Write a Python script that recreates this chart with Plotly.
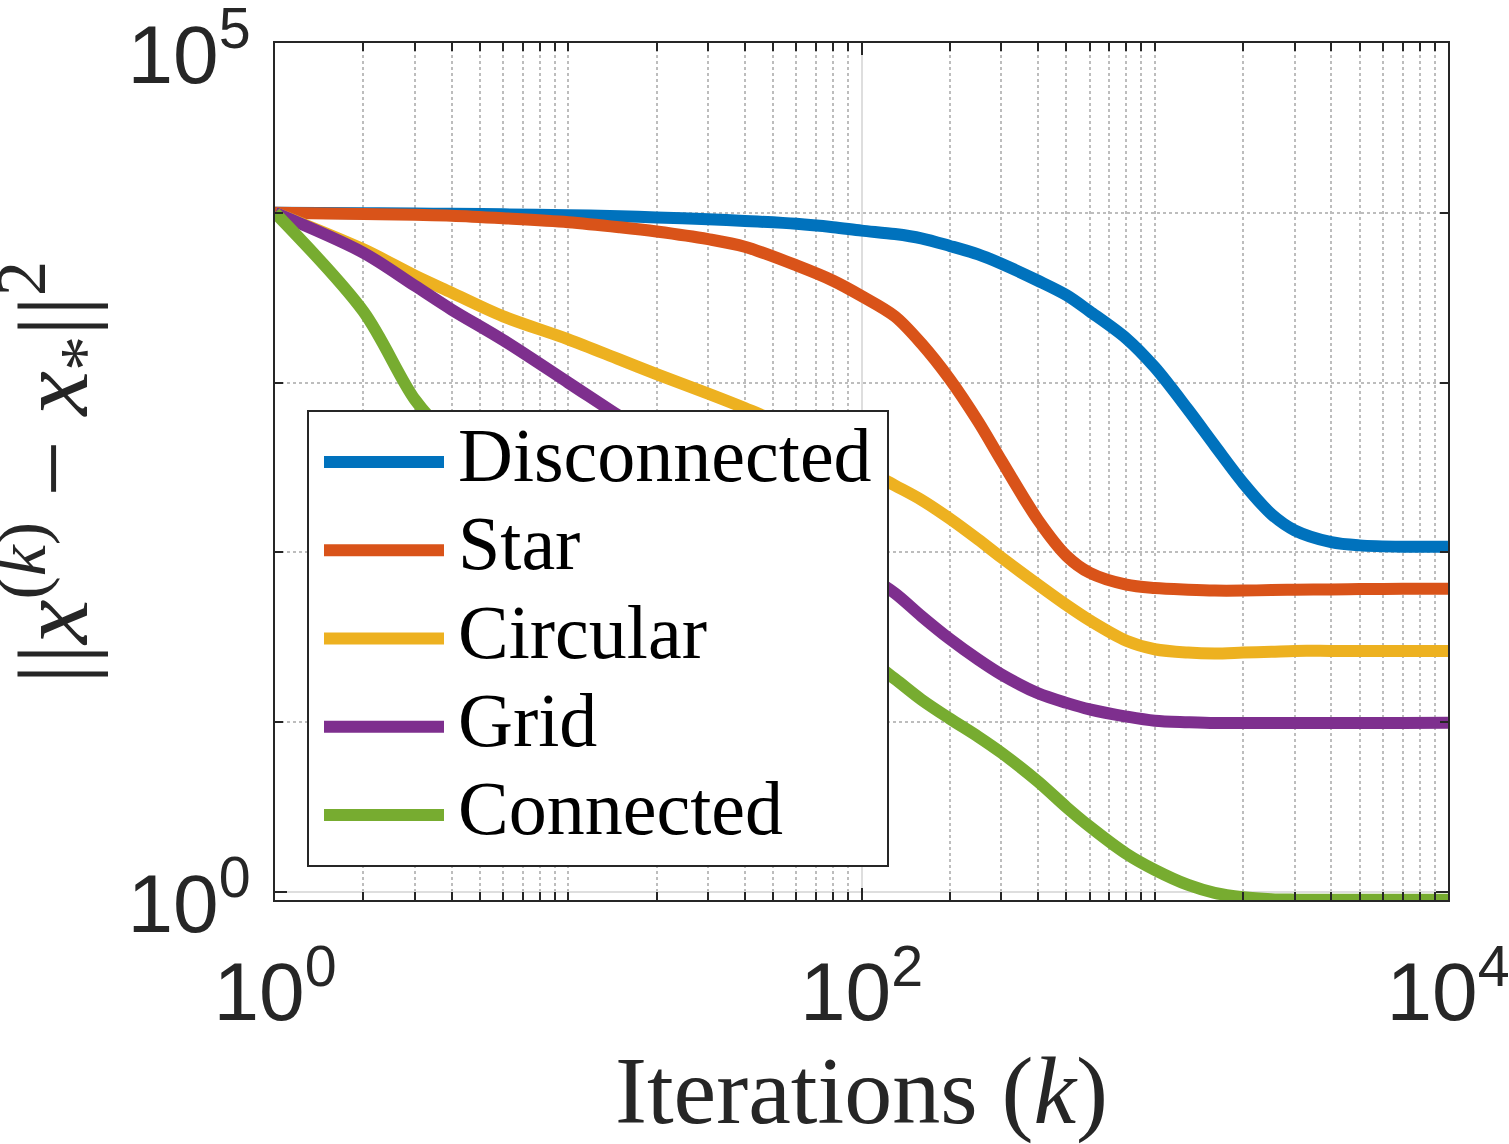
import plotly.graph_objects as go

# iteration counts sampled along the curves
iterations = [1, 2, 3, 4, 6, 10, 15, 20, 30, 40, 60, 80, 100, 130, 160, 200,
              250, 300, 400, 500, 600, 800, 1000, 1300, 1600, 2000, 2500,
              3000, 4000, 5000, 7000, 10000]

# ||x(k) - x*||^2 for each network topology
disconnected = [10000, 9954, 9908, 9863, 9795, 9683, 9550, 9397, 9162, 8954,
                8610, 8222, 7852, 7499, 7079, 6383, 5689, 5012, 3981, 3273,
                2630, 1820, 1230, 692, 427, 257, 168, 135, 115, 110, 108, 108]
star = [10000, 9840, 9727, 9616, 9290, 8810, 8222, 7762, 6998, 6310,
        4898, 3981, 3236, 2455, 1698, 1047, 589, 347, 155, 95.5,
        75.9, 64.6, 61.7, 60.3, 59.6, 59.6, 60.0, 60.3, 60.5, 60.8, 61.0, 61.0]
circular = [10000, 6095, 4266, 3388, 2455, 1799, 1365, 1122, 861, 708,
            525, 398, 316, 248, 204, 158, 119, 93.3, 64.6, 49.0,
            39.8, 30.2, 26.9, 25.7, 25.4, 25.7, 26.0, 26.3, 26.3, 26.3, 26.3, 26.3]
grid = [10000, 5821, 3715, 2692, 1778, 1000, 631, 462, 295, 214,
        136, 98.9, 77.6, 57.5, 42.2, 30.9, 23.4, 19.1, 14.8, 13.0,
        11.9, 10.8, 10.2, 10.0, 9.89, 9.89, 9.89, 9.89, 9.89, 9.89, 9.89, 9.93]
connected = [10000, 2630, 794, 457, 251, 148, 107, 85.1, 63.1, 50.1,
             37.2, 29.5, 25.1, 18.0, 13.6, 10.5, 8.22, 6.61, 4.47, 3.16,
             2.43, 1.68, 1.35, 1.10, 0.989, 0.933, 0.908, 0.902, 0.90, 0.90, 0.90, 0.90]

names = ["Disconnected", "Star", "Circular", "Grid", "Connected"]
series = [disconnected, star, circular, grid, connected]
colors = ["#0072BD", "#D95319", "#EDB120", "#7E2F8E", "#77AC30"]

x_ticks = [1, 100, 10000]
x_ticktext = ["10<sup>0</sup>", "10<sup>2</sup>", "10<sup>4</sup>"]
x_minor = [m * 10 ** e for e in range(4) for m in range(2, 11)][:-1]
y_ticks = [1, 100000]
y_ticktext = ["10<sup>0</sup>", "10<sup>5</sup>"]
y_minor = [10, 100, 1000, 10000]

# plot box in pixels (used to place the legend box and y label)
W, H = 1509, 1144
L, R, T, B = 275, 1448, 43, 900


def px(xp):
    return (xp - L) / (R - L)


def py(yp):
    return (B - yp) / (B - T)


fig = go.Figure()
for name, vals, col in zip(names, series, colors):
    fig.add_trace(go.Scatter(x=iterations, y=vals, mode="lines", name=name,
                             line=dict(color=col, width=12, shape="spline", smoothing=0.9),
                             showlegend=False))

axis_col = "#262626"
serif = "Liberation Serif, Times New Roman, serif"
tick_font = dict(family="Liberation Sans, Arial, sans-serif", size=82, color=axis_col)

common = dict(type="log", tickfont=tick_font, showline=True, linecolor=axis_col,
              linewidth=2, mirror="ticks", ticks="inside", ticklen=12, tickwidth=2,
              tickcolor=axis_col, showgrid=True, gridcolor="#dedede", gridwidth=2,
              automargin=False, ticklabeloverflow="allow")
minor = dict(ticks="inside", ticklen=8, tickwidth=2, tickcolor=axis_col,
             showgrid=True, gridcolor="#bdbdbd", griddash="dot", gridwidth=1.5)

fig.update_xaxes(range=[0, 4], tickvals=x_ticks, ticktext=x_ticktext,
                 ticklabelstandoff=20, minor=dict(tickvals=x_minor, **minor),
                 title=dict(text="Iterations (<i>k</i>)",
                            font=dict(family=serif, size=96, color=axis_col)),
                 **common)
fig.update_yaxes(range=[-0.047, 5], tickvals=y_ticks, ticktext=y_ticktext,
                 ticklabelstandoff=6, ticklabelshift=11,
                 minor=dict(tickvals=y_minor, **minor), **common)

# legend drawn as a boxed list inside the axes, MATLAB style
shapes = [dict(type="rect", xref="paper", yref="paper", x0=px(308), x1=px(888),
               y0=py(866), y1=py(411), fillcolor="white",
               line=dict(color=axis_col, width=2), layer="above")]
annotations = [dict(text="||<i>x</i><sup>(<i>k</i>)</sup> \u2212 <i>x</i><sub>*</sub>||<sup>2</sup>",
                    xref="paper", yref="paper", x=px(53), y=py(473), textangle=-90,
                    xanchor="center", yanchor="middle", showarrow=False,
                    font=dict(family=serif, size=100, color=axis_col))]
for i, (name, col) in enumerate(zip(names, colors)):
    row = 462 + 88.25 * i
    shapes.append(dict(type="line", xref="paper", yref="paper", x0=px(324), x1=px(444),
                       y0=py(row), y1=py(row), line=dict(color=col, width=12), layer="above"))
    annotations.append(dict(text=name, xref="paper", yref="paper", x=px(456), y=py(row),
                            xanchor="left", yanchor="middle", yshift=7, showarrow=False,
                            font=dict(family=serif, size=76, color="black")))

fig.update_layout(width=W, height=H, margin=dict(l=L, r=W - R, t=T, b=H - B),
                  plot_bgcolor="white", paper_bgcolor="white",
                  shapes=shapes, annotations=annotations)

fig.write_html("out.html", config={"displayModeBar": False},
               post_script="document.body.style.margin='0';document.body.style.overflow='hidden';")
